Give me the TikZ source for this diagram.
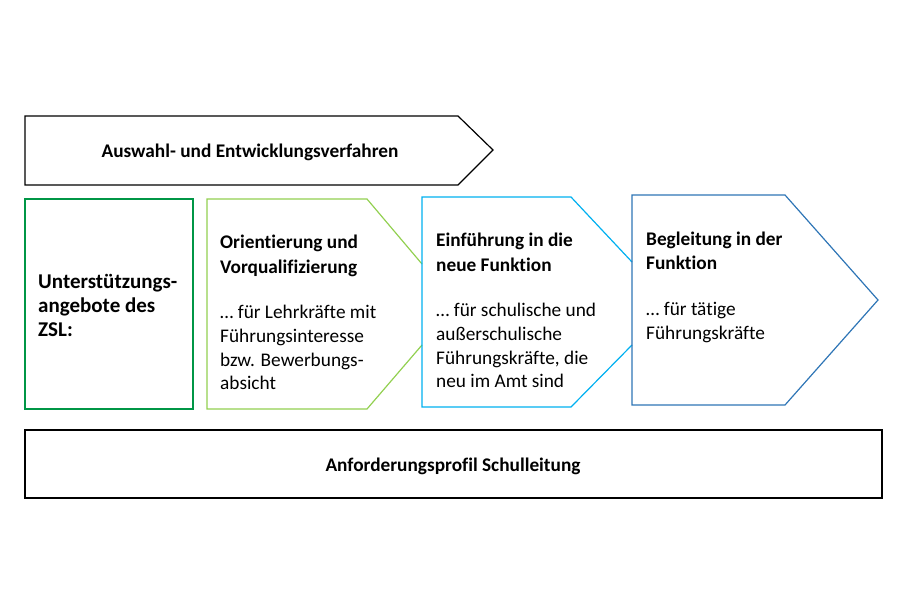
\documentclass[tikz,border=0pt]{standalone}
\usepackage{fontspec}
\setmainfont{Carlito}[Ligatures={NoCommon}]
\begin{document}
\begin{tikzpicture}[x=1pt,y=-1pt,
  shp/.style={line width=1.2pt},
  txt/.style={anchor=base west,inner sep=0pt,font=\fontsize{19.3}{19}\selectfont},
  bt/.style={txt,font=\fontsize{19.3}{19}\selectfont\bfseries}]
\useasboundingbox (0,0) rectangle (900,600);
\definecolor{dg}{RGB}{0,150,70}
\definecolor{lg}{RGB}{146,208,80}
\definecolor{lb}{RGB}{0,176,240}
\definecolor{db}{RGB}{46,117,182}
\draw[shp,black] (25,116) -- (458,116) -- (493,150) -- (458,185) -- (25,185) -- cycle;
\node[bt,anchor=base] (t) at (250,157) {Auswahl- und Entwicklungsverfahren};
\draw[shp,dg] (25,199) rectangle (193,409);
\node[bt,font=\fontsize{21}{21}\selectfont\bfseries] (u1) at (38,288) {Unterstützungs-};
\node[bt,font=\fontsize{21}{21}\selectfont\bfseries] (u2) at (38,312) {angebote des};
\node[bt,font=\fontsize{21}{21}\selectfont\bfseries] (u3) at (38,336) {ZSL:};
\draw[shp,lg] (422,345) -- (367,409) -- (207,409) -- (207,199) -- (367,199) -- (422,264);
\node[bt] (a1) at (220,248) {Orientierung und};
\node[bt] (a2) at (220,273) {Vorqualifizierung};
\node[txt] (a3) at (220,318) {… für Lehrkräfte mit};
\node[txt] (a4) at (220,342) {Führungsinteresse};
\node[txt] (a5) at (220,366) {bzw. Bewerbungs-};
\node[txt] (a6) at (220,389) {absicht};
\draw[shp,lb] (632,345) -- (571,407) -- (422,407) -- (422,197) -- (571,197) -- (632,262);
\node[bt] (b1) at (436,246) {Einführung in die};
\node[bt] (b2) at (436,271) {neue Funktion};
\node[txt] (b3) at (436,316) {… für schulische und};
\node[txt] (b4) at (436,340) {außerschulische};
\node[txt] (b5) at (436,364) {Führungskräfte, die};
\node[txt] (b6) at (436,387) {neu im Amt sind};
\draw[shp,db] (632,195) -- (785,195) -- (878,300) -- (785,405) -- (632,405) -- cycle;
\node[bt] (c1) at (646,245) {Begleitung in der};
\node[bt] (c2) at (646,269) {Funktion};
\node[txt] (c3) at (646,315) {… für tätige};
\node[txt] (c4) at (646,339) {Führungskräfte};
\draw[shp,black] (25,430) rectangle (882,498);
\node[bt,anchor=base] (p) at (453,471) {Anforderungsprofil Schulleitung};
\end{tikzpicture}
\end{document}
